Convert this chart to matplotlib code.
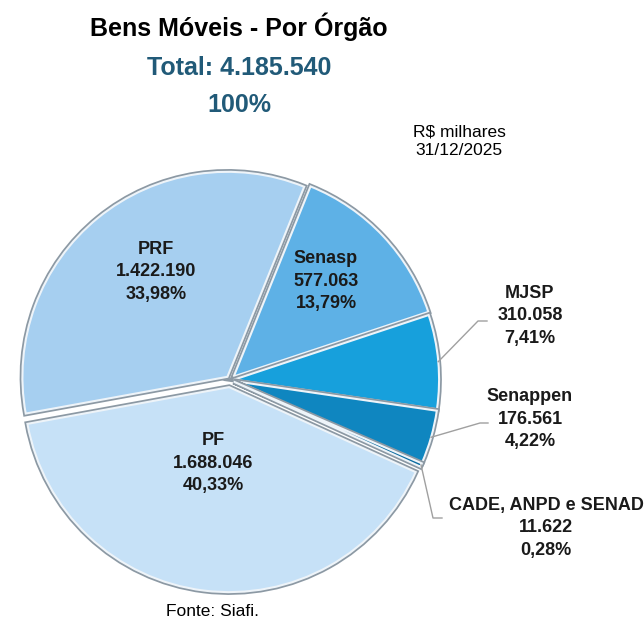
import matplotlib.pyplot as plt
import matplotlib.patheffects as pe
import numpy as np

plt.rcParams['font.family'] = ['Liberation Sans', 'DejaVu Sans']

orgaos = ["Senasp", "MJSP", "Senappen", "CADE, ANPD e SENAD", "PF", "PRF"]
valores = [577063, 310058, 176561, 11622, 1688046, 1422190]
valores_txt = ["577.063", "310.058", "176.561", "11.622", "1.688.046", "1.422.190"]
percentuais = ["13,79%", "7,41%", "4,22%", "0,28%", "40,33%", "33,98%"]
total_txt = "4.185.540"

cores = ["#5eb1e6", "#17a0dc", "#0f86c0", "#0b6ca0", "#c6e1f7", "#a6cff0"]
explode_frac = [0.025, 0.02, 0.02, 0.02, 0.035, 0.02]

# label positions (pixels from top-left of the figure)
pos_labels = [(326, 281), (530, 316), (530, 419), (546, 528), (213, 463), (156, 272)]
externos = [False, True, True, True, False, False]
cotovelos = [None, (478, 321), (480, 423), (433, 518), None, None]
fim_linha = [None, (487, 321), (488, 423), (442, 518), None, None]

H = 621
cx, cy, R = 230, H - 380, 205

fig = plt.figure(figsize=(6.44, 6.21), dpi=100)
ax = fig.add_axes([0, 0, 1, 1])

# matplotlib's explode offset is in data units, so scale by the radius
wedges, _ = ax.pie(valores, colors=cores, explode=[f * R for f in explode_frac],
                   startangle=68, counterclock=False, center=(cx, cy), radius=R,
                   wedgeprops=dict(edgecolor="#eef4f9", linewidth=1.5))
for w in wedges:
    w.set_path_effects([pe.Stroke(linewidth=4, foreground="#8c99a4"), pe.Normal()])

ax.set_xlim(0, 644)
ax.set_ylim(0, H)
ax.set_aspect("equal")
ax.axis("off")

for i, w in enumerate(wedges):
    x, y = pos_labels[i]
    txt = orgaos[i] + "\n" + valores_txt[i] + "\n" + percentuais[i]
    ax.text(x, H - y, txt, ha="center", va="center", fontsize=13,
            fontweight="bold", color="#1a1a1a", linespacing=1.45)
    if externos[i]:
        ang = np.deg2rad((w.theta1 + w.theta2) / 2)
        ox, oy = w.center
        x0 = ox + w.r * np.cos(ang)
        y0 = oy + w.r * np.sin(ang)
        ex, ey = cotovelos[i]
        fx, fy = fim_linha[i]
        ax.plot([x0, ex, fx], [y0, H - ey, H - fy], color="#a0a0a0", lw=1)

fig.text(239 / 644, 1 - 27 / H, "Bens Móveis - Por Órgão", ha="center", va="center",
         fontsize=18, fontweight="bold", color="black")
fig.text(239 / 644, 1 - 68 / H, "Total: " + total_txt, ha="center", va="center",
         fontsize=18, fontweight="bold", color="#215a78")
fig.text(239 / 644, 1 - 105 / H, "100%", ha="center", va="center",
         fontsize=18, fontweight="bold", color="#215a78")
fig.text(459 / 644, 1 - 141 / H, "R$ milhares\n31/12/2025", ha="center", va="center",
         fontsize=12.5, color="black", linespacing=1.3)
fig.text(213 / 644, 1 - 612 / H, "Fonte: Siafi.", ha="center", va="center",
         fontsize=12.5, color="black")

fig.savefig("out.png", dpi=100)
